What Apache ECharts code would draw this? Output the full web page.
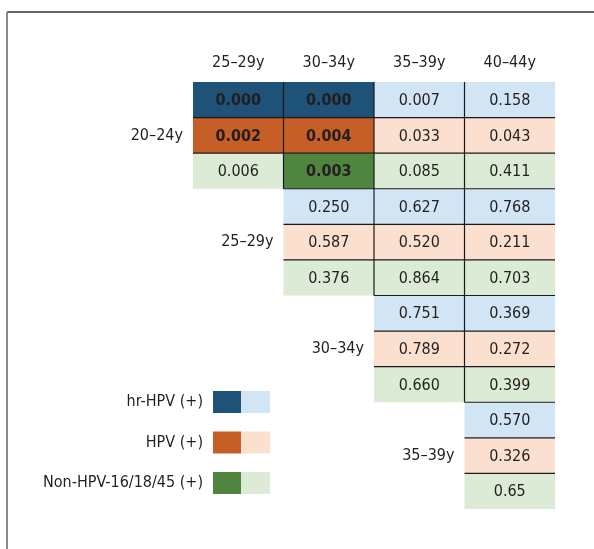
<!DOCTYPE html>
<html>
<head>
<meta charset="UTF-8">
<title>HPV p-values by age group</title>
<script src="https://cdn.jsdelivr.net/npm/echarts@6/dist/echarts.min.js"></script>
<style>
  html, body { margin: 0; padding: 0; background: #fff; }
  #main { width: 594px; height: 549px; }
</style>
</head>
<body>
<div id="main"></div>
<script type="text/javascript">
// column / row labels
var colLabels = ['25–29y', '30–34y', '35–39y', '40–44y'];
var groupLabels = ['20–24y', '25–29y', '30–34y', '35–39y'];
var typeNames = ['hr-HPV (+)', 'HPV (+)', 'Non-HPV-16/18/45 (+)'];

// p values, one list per row group (group g starts at column g)
var hrHPV = [['0.000', '0.000', '0.007', '0.158'], ['0.250', '0.627', '0.768'], ['0.751', '0.369'], ['0.570']];
var hpvPos = [['0.002', '0.004', '0.033', '0.043'], ['0.587', '0.520', '0.211'], ['0.789', '0.272'], ['0.326']];
var nonHPV = [['0.006', '0.003', '0.085', '0.411'], ['0.376', '0.864', '0.703'], ['0.660', '0.399'], ['0.65']];

var darkColors = ['#1e5279', '#c55f27', '#508540'];
var lightColors = ['#d1e5f5', '#fbdfcf', '#dbebd5'];
var textColor = '#231f20';
var FONT = '"Liberation Sans Narrow", "DejaVu Sans Condensed", "Roboto", sans-serif';
var FS = 16;
var sigLevel = 0.005;

var byType = [hrHPV, hpvPos, nonHPV];
var rowNames = [];
var cells = [];
var exists = {};
for (var g = 0; g < groupLabels.length; g++) {
    for (var t = 0; t < 3; t++) {
        var row = g * 3 + t;
        rowNames.push(groupLabels[g] + ' ' + typeNames[t]);
        var vals = byType[t][g];
        for (var k = 0; k < vals.length; k++) {
            var col = g + k;
            cells.push([col, row, parseFloat(vals[k]), t, vals[k]]);
            exists[col + '_' + row] = true;
        }
    }
}
// which inner edges get a dividing line
var borders = cells.map(function (c) {
    var right = exists[(c[0] + 1) + '_' + c[1]] ? 1 : 0;
    var bottom = exists[c[0] + '_' + (c[1] + 1)] ? 1 : 0;
    return [c[0], c[1], right, bottom];
});
var groupLabelData = groupLabels.map(function (name, g) {
    return [g, g * 3 + 1, name];
});

var myChart = echarts.init(document.getElementById('main'));
var option = {
    animation: false,
    grid: { left: 193, right: 39, top: 82, bottom: 40 },
    xAxis: {
        type: 'category',
        position: 'top',
        data: colLabels,
        axisLine: { show: false },
        axisTick: { show: false },
        splitLine: { show: false },
        axisLabel: { color: textColor, fontSize: FS, fontFamily: FONT, margin: 11 }
    },
    yAxis: {
        type: 'category',
        inverse: true,
        data: rowNames,
        show: false
    },
    graphic: [
        { type: 'line', shape: { x1: 7, y1: 12, x2: 594, y2: 12 }, style: { stroke: '#333', lineWidth: 1.5 } },
        { type: 'line', shape: { x1: 7, y1: 12, x2: 7, y2: 549 }, style: { stroke: '#8a8a8a', lineWidth: 2 } }
    ].concat(typeNames.reduce(function (arr, name, i) {
        var cy = 402 + i * 40.5;
        arr.push({ type: 'text', style: { text: name, x: 203, y: cy, align: 'right', verticalAlign: 'middle', textAlign: 'right', textVerticalAlign: 'middle', fill: textColor, font: FS + 'px ' + FONT } });
        arr.push({ type: 'rect', shape: { x: 213, y: cy - 11, width: 28, height: 22 }, style: { fill: darkColors[i] } });
        arr.push({ type: 'rect', shape: { x: 241, y: cy - 11, width: 29, height: 22 }, style: { fill: lightColors[i] } });
        return arr;
    }, [])),
    series: [
        {
            type: 'custom',
            name: 'cells',
            data: cells,
            z: 2,
            renderItem: function (params, api) {
                var p = api.coord([api.value(0), api.value(1)]);
                var s = api.size([1, 1]);
                var t = api.value(3);
                var sig = api.value(2) < sigLevel;
                var label = cells[params.dataIndex][4];
                return {
                    type: 'group',
                    children: [
                        { type: 'rect', shape: { x: p[0] - s[0] / 2, y: p[1] - s[1] / 2, width: s[0], height: s[1] },
                          style: { fill: sig ? darkColors[t] : lightColors[t] } },
                        { type: 'text', style: { text: label, x: p[0], y: p[1] + 1, align: 'center', verticalAlign: 'middle',
                          textAlign: 'center', textVerticalAlign: 'middle', fill: textColor,
                          font: (sig ? 'bold ' : '') + FS + 'px ' + FONT } }
                    ]
                };
            }
        },
        {
            type: 'custom',
            name: 'borders',
            data: borders,
            z: 3,
            renderItem: function (params, api) {
                var p = api.coord([api.value(0), api.value(1)]);
                var s = api.size([1, 1]);
                var x0 = p[0] - s[0] / 2, x1 = p[0] + s[0] / 2;
                var y0 = p[1] - s[1] / 2, y1 = p[1] + s[1] / 2;
                var kids = [];
                if (api.value(2)) kids.push({ type: 'line', shape: { x1: x1, y1: y0, x2: x1, y2: y1 }, style: { stroke: '#1a1a1a', lineWidth: 1.2 } });
                if (api.value(3)) kids.push({ type: 'line', shape: { x1: x0, y1: y1, x2: x1, y2: y1 }, style: { stroke: '#1a1a1a', lineWidth: 1.2 } });
                return { type: 'group', children: kids };
            }
        },
        {
            type: 'custom',
            name: 'groups',
            data: groupLabelData,
            z: 3,
            renderItem: function (params, api) {
                var p = api.coord([api.value(0), api.value(1)]);
                var s = api.size([1, 1]);
                return { type: 'text', style: { text: groupLabelData[params.dataIndex][2], x: p[0] - s[0] / 2 - 10, y: p[1],
                    align: 'right', verticalAlign: 'middle', textAlign: 'right', textVerticalAlign: 'middle',
                    fill: textColor, font: FS + 'px ' + FONT } };
            }
        }
    ]
};
myChart.setOption(option);
</script>
</body>
</html>
